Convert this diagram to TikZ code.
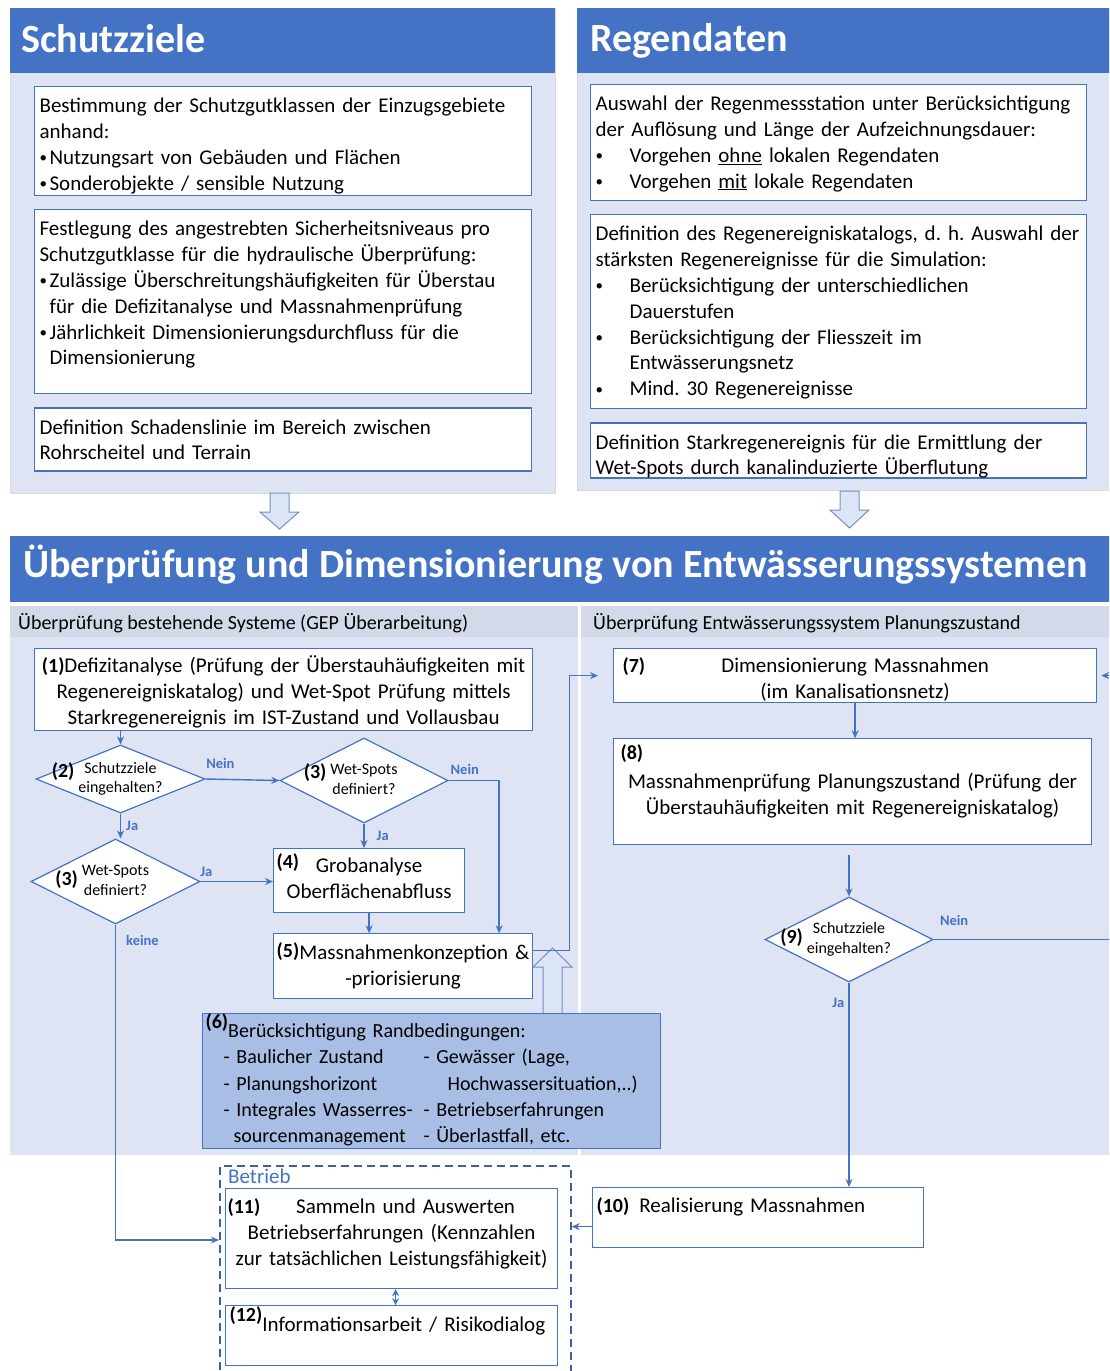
\documentclass[tikz,border=0pt]{standalone}
\usepackage{fontspec}
\setmainfont{Carlito}
\usepackage{xcolor}
\usepackage{tikz}
\usetikzlibrary{positioning,arrows.meta,shapes.geometric}
\definecolor{hdblue}{RGB}{68,114,196}
\definecolor{panelbg}{RGB}{222,228,243}
\definecolor{subbg}{RGB}{211,217,233}
\definecolor{randfill}{RGB}{168,190,229}
\definecolor{fatfill}{RGB}{219,229,246}
\definecolor{fatline}{RGB}{118,142,204}
\newcommand{\bodyfont}{\fontsize{21}{25.8}\selectfont}
\newcommand{\numb}[2][0pt]{\raisebox{#1}{\fontsize{20}{24}\selectfont\bfseries #2}}
\newcommand{\cornum}[3][0pt]{\makebox[\linewidth]{\rlap{\numb[#1]{#2}}\hfill#3\hfill}}
\newcommand{\dtxt}[4][0pt]{\makebox[0pt]{\llap{\numb[#1]{#2}\hspace{4pt}}\begin{tabular}{@{}c@{}}#3\\#4\end{tabular}}}
\newcommand{\dotb}{\raisebox{1.5pt}{\fontsize{15}{15}\selectfont •}}
\newcommand{\sbul}{\makebox[10pt][l]{\dotb}}
\newcommand{\bul}{\makebox[34pt][l]{\dotb}}
\tikzset{
  panel/.style   = {fill=panelbg, draw=black!15, line width=0.8pt},
  box/.style     = {draw=hdblue, line width=1.2pt, fill=white, anchor=north west, inner xsep=5pt, inner ysep=0pt, align=left, text height=26pt, font=\bodyfont},
  cbox/.style    = {box, align=center},
  dia/.style     = {diamond, draw=hdblue, line width=1.2pt, fill=white, inner sep=0pt, font=\fontsize{16}{19.5}\selectfont},
  flow/.style    = {-{Stealth[length=8pt,width=7pt]}, line width=1.4pt, draw=hdblue},
  dflow/.style   = {flow, {Stealth[length=7pt,width=7pt]}-{Stealth[length=7pt,width=7pt]}},
  lbl/.style     = {text=hdblue, font=\fontsize{14.5}{16}\selectfont\bfseries, inner sep=1pt},
  hdtext/.style  = {anchor=base west, inner sep=0pt, text=white, font=\fontsize{40}{46}\selectfont\bfseries},
  subtext/.style = {anchor=base west, inner sep=0pt, font=\fontsize{20}{23}\selectfont},
  fat/.style     = {draw=fatline, fill=fatfill, line width=1pt, line join=miter},
  dashbox/.style = {draw=hdblue!85!black, dash pattern=on 8pt off 5pt, line width=1.7pt},
}

\begin{document}
\begin{tikzpicture}[x=1pt, y=-1pt]
  \useasboundingbox (0,0) rectangle (1109,1371);
  \clip (0,0) rectangle (1109,1371);
  \coordinate (redge) at (1120,0);

  % Schutzziele und Regendaten
  \draw[panel] (10,8) rectangle (555,493);
  \draw[panel] (577,8) rectangle (1125,490);
  \fill[hdblue] (10,8) rectangle (555,73);
  \fill[hdblue] (577,8) rectangle (1125,73);
  \node[hdtext] (tsz) at (21,52) {Schutzziele};
  \node[hdtext] (trd) at (590,51) {Regendaten};

  \node[box, text width=487pt, text depth=83pt] (s1) at (34,86) {Bestimmung der Schutzgutklassen der Einzugsgebiete\\anhand:\\\sbul Nutzungsart von Gebäuden und Flächen\\\sbul Sonderobjekte / sensible Nutzung};
  \node[box, text width=487pt, text depth=158pt, below=13pt of s1] (s2) {Festlegung des angestrebten Sicherheitsniveaus pro\\Schutzgutklasse für die hydraulische Überprüfung:\\\sbul Zulässige Überschreitungshäufigkeiten für Überstau\\\hspace*{10pt}für die Defizitanalyse und Massnahmenprüfung\\\sbul Jährlichkeit Dimensionierungsdurchfluss für die\\\hspace*{10pt}Dimensionierung};
  \node[box, text width=487pt, text depth=37pt, below=13pt of s2] (s3) {Definition Schadenslinie im Bereich zwischen\\Rohrscheitel und Terrain};

  \node[box, text width=486pt, text depth=90pt] (r1) at (590,84) {Auswahl der Regenmessstation unter Berücksichtigung\\der Auflösung und Länge der Aufzeichnungsdauer:\\\bul Vorgehen \underline{ohne} lokalen Regendaten\\\bul Vorgehen \underline{mit} lokale Regendaten};
  \node[box, text width=486pt, text depth=168pt, below=13pt of r1] (r2) {\mbox{Definition des Regenereigniskatalogs, d.\ h.\ Auswahl der}\\stärksten Regenereignisse für die Simulation:\\\bul Berücksichtigung der unterschiedlichen\\\hspace*{34pt}Dauerstufen\\\bul Berücksichtigung der Fliesszeit im\\\hspace*{34pt}Entwässerungsnetz\\\bul Mind.\ 30 Regenereignisse};
  \node[box, text width=486pt, text depth=29pt, below=13pt of r2] (r3) {Definition Starkregenereignis für die Ermittlung der\\Wet-Spots durch kanalinduzierte Überflutung};

  \draw[fat] (270,493) -- ++(19,0) -- ++(0,19) -- ++(10,0) -- ++(-19.5,17) -- ++(-19.5,-17) -- ++(10,0) -- cycle;
  \draw[fat] (840,491) -- ++(19,0) -- ++(0,19) -- ++(10,0) -- ++(-19.5,18) -- ++(-19.5,-18) -- ++(10,0) -- cycle;

  % Ueberpruefung und Dimensionierung
  \fill[hdblue] (10,536) rectangle (1125,602);
  \node[hdtext] (tmain) at (23,577) {Überprüfung und Dimensionierung von Entwässerungssystemen};
  \fill[panelbg] (10,606) rectangle (578,1155);
  \fill[panelbg] (581,606) rectangle (1125,1155);
  \fill[subbg] (10,606) rectangle (578,637);
  \fill[subbg] (581,606) rectangle (1125,637);
  \node[subtext] (tsub1) at (18,629) {Überprüfung bestehende Systeme (GEP Überarbeitung)};
  \node[subtext] (tsub2) at (593,629) {Überprüfung Entwässerungssystem Planungszustand};

  \node[cbox, text width=488pt, text height=24pt, text depth=58pt] (b1) at (34,648) {\numb{(1)}Defizitanalyse (Prüfung der Überstauhäufigkeiten mit\\Regenereigniskatalog) und Wet-Spot Prüfung mittels\\Starkregenereignis im IST-Zustand und Vollausbau};
  \node[dia, minimum width=169pt, minimum height=68pt] (d2) at (120.5,779) {\dtxt[6pt]{(2)}{Schutzziele}{eingehalten?}};
  \node[dia, minimum width=168pt, minimum height=85pt] (d3a) at (364,780.5) {\dtxt[6pt]{(3)}{Wet-Spots}{definiert?}};
  \node[dia, minimum width=169pt, minimum height=85pt] (d3b) at (115.5,881.5) {\dtxt{(3)}{Wet-Spots}{definiert?}};
  \node[cbox, inner xsep=3pt, text width=185pt, text height=24pt, text depth=40pt] (b4) at (273,848) {\cornum[4pt]{(4)}{Grobanalyse}\\Oberflächenabfluss};
  \node[cbox, inner xsep=2pt, text width=255pt, text depth=39pt, below=20pt of b4.south west, anchor=north west] (b5) {\makebox[\linewidth]{\numb[2pt]{(5)}Massnahmenkonzeption \&}\\-priorisierung};
  \draw[fat] (543,1015) -- ++(19,0) -- ++(0,-48) -- ++(10,0) -- ++(-19.5,-19) -- ++(-19.5,19) -- ++(10,0) -- cycle;
  \node[box, fill=randfill, inner xsep=3pt, text width=452pt, text height=24pt, text depth=111pt, font=\fontsize{20}{26.2}\selectfont] (b6) at (202,1013) {\numb[9pt]{(6)}Berücksichtigung Randbedingungen:\\
    \hspace*{18pt}\makebox[200pt][l]{- Baulicher Zustand}- Gewässer (Lage,\\
    \hspace*{18pt}\makebox[200pt][l]{- Planungshorizont}\hspace*{24pt}Hochwassersituation,..)\\
    \hspace*{18pt}\makebox[200pt][l]{- Integrales Wasserres-}- Betriebserfahrungen\\
    \hspace*{28pt}\makebox[190pt][l]{sourcenmanagement}- Überlastfall, etc.};

  \node[cbox, inner xsep=9pt, text width=465pt, text height=24pt, text depth=30pt] (b7) at (613,648) {\cornum{(7)}{Dimensionierung Massnahmen}\\(im Kanalisationsnetz)};
  \node[cbox, inner xsep=7pt, text width=464pt, text height=21pt, text depth=85pt, below=35pt of b7.south west, anchor=north west] (b8) {\makebox[\linewidth][l]{\numb{(8)}}\\[3pt]Massnahmenprüfung Planungszustand (Prüfung der\\Überstauhäufigkeiten mit Regenereigniskatalog)};
  \node[dia, minimum width=168pt, minimum height=85pt] (d9) at (849,939.5) {\dtxt{(9)}{Schutzziele}{eingehalten?}};
  \node[box, inner xsep=4pt, text width=323pt, text height=25pt, text depth=35pt] (b10) at (592,1187) {\numb{(10)}\hspace{10pt}Realisierung Massnahmen};

  % Betrieb
  \node[dashbox, anchor=north west, minimum width=351pt, minimum height=220pt, inner sep=0pt] (bet) at (219,1165) {};
  \node[anchor=base west, inner sep=0pt, text=hdblue, font=\bodyfont] (betl) at (228,1183) {Betrieb};
  \coordinate (bin) at ([yshift=-75pt]bet.north west);
  \node[cbox, inner xsep=2pt, text width=328pt, text height=25pt, text depth=75pt] (b11) at (225,1188) {\cornum{(11)}{\hspace*{28pt}Sammeln und Auswerten}\\Betriebserfahrungen (Kennzahlen\\zur tatsächlichen Leistungsfähigkeit)};
  \node[box, inner xsep=4pt, text width=324pt, text depth=34pt, below=16pt of b11] (b12) {\numb[10pt]{(12)}Informationsarbeit / Risikodialog};

  \draw[flow] (d2.north |- b1.south) -- (d2.north);
  \draw[flow] (d2.east) -- node[lbl, pos=0.2, above=9pt] (n1) {Nein} (d3a.west);
  \draw[flow] (d3a.east) -| node[lbl, pos=0.16, above=4pt] (n2) {Nein} ([xshift=96pt]b5.north);
  \draw[flow] (d2.south) -- node[lbl, right=4pt] (j1) {Ja} (d2.south |- d3b.north);
  \draw[flow] (d3a.south) -- node[lbl, right=11pt] (j2) {Ja} (d3a.south |- b4.north);
  \draw[flow] (d3b.east) -- node[lbl, pos=0.08, above=3pt] (j3) {Ja} (d3b.east -| b4.west);
  \draw[flow] (d3b.south) |- node[lbl, pos=0.025, right=9pt] (k1) {keine} (bin);
  \draw[flow] (b4.south) -- (b4.south |- b5.north);
  \draw[flow, shorten >=15pt] ([yshift=16pt]b5.east) -- ++(36,0) |- (b7.west);
  \draw[flow] (b7.south) -- (b7.south |- b8.north);
  \draw[flow, shorten <=10pt] (d9.north |- b8.south) -- (d9.north);
  \draw[flow, shorten >=4pt] (d9.east) -- node[lbl, pos=0.11, above=12pt] (n3) {Nein} (d9.east -| redge) |- (b7.east);
  \draw[flow] (d9.south) -- node[lbl, pos=0.1, left=3pt] (j4) {Ja} (d9.south |- b10.north);
  \draw[flow] ([yshift=-9pt]b10.west) -- ([yshift=-9pt]b10.west -| bet.east);
  \draw[dflow] ([xshift=4pt]b11.south) -- ([xshift=4pt]b12.north);
\end{tikzpicture}
\end{document}
